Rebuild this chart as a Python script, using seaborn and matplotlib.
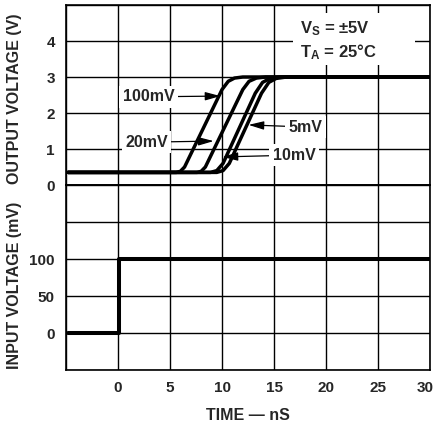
import matplotlib
matplotlib.use("Agg")
import matplotlib.pyplot as plt
from matplotlib.patches import Rectangle
from matplotlib.transforms import ScaledTranslation
import seaborn as sns
import pandas as pd

# Output response for each input overdrive: (time ns, output volts)
t_100mv = [-4.8, 5.6, 6.0, 6.4, 10.0, 10.6, 11.2, 12.0, 30.0]
v_100mv = [0.35, 0.35, 0.38, 0.50, 2.65, 2.88, 2.97, 3.00, 3.00]
t_20mv = [-4.8, 7.6, 8.0, 8.4, 12.0, 12.6, 13.3, 14.2, 30.0]
v_20mv = [0.35, 0.35, 0.38, 0.50, 2.65, 2.88, 2.97, 3.00, 3.00]
t_10mv = [-4.8, 8.9, 9.5, 10.1, 13.2, 13.9, 14.6, 15.6, 30.0]
v_10mv = [0.35, 0.35, 0.40, 0.60, 2.55, 2.85, 2.96, 3.00, 3.00]
t_5mv = [-4.8, 9.5, 10.1, 10.7, 13.8, 14.5, 15.2, 16.2, 30.0]
v_5mv = [0.35, 0.35, 0.40, 0.60, 2.55, 2.85, 2.96, 3.00, 3.00]

# Input step (time ns, millivolts)
t_in = [-4.8, 0.1, 0.1, 30.0]
v_in = [0, 0, 100, 100]

x_ticks = [0, 5, 10, 15, 20, 25, 30]
out_ticks = [0, 1, 2, 3, 4]
in_ticks = [0, 50, 100]

sns.set_style("white")
plt.rcParams["font.family"] = ["Liberation Sans", "DejaVu Sans"]
plt.rcParams["font.weight"] = "bold"
plt.rcParams["mathtext.fontset"] = "custom"
plt.rcParams["mathtext.rm"] = "Liberation Sans:bold"
plt.rcParams["mathtext.it"] = "Liberation Sans:bold"
plt.rcParams["mathtext.bf"] = "Liberation Sans:bold"

W, H = 436, 423
fig = plt.figure(figsize=(W / 100, H / 100), dpi=100)
fig.patch.set_facecolor("white")


def px_axes(left, top, right, bottom):
    return fig.add_axes([left / W, 1 - bottom / H, (right - left) / W, (bottom - top) / H])


ax_out = px_axes(66, 5, 430, 185)
ax_in = px_axes(66, 185, 430, 370)

LW = 2.5
curves = pd.concat([
    pd.DataFrame({"t": t_100mv, "v": v_100mv, "drive": "100mV"}),
    pd.DataFrame({"t": t_20mv, "v": v_20mv, "drive": "20mV"}),
    pd.DataFrame({"t": t_10mv, "v": v_10mv, "drive": "10mV"}),
    pd.DataFrame({"t": t_5mv, "v": v_5mv, "drive": "5mV"}),
])
sns.lineplot(data=curves, x="t", y="v", units="drive", estimator=None, sort=False,
             color="black", linewidth=LW, ax=ax_out, zorder=3)
sns.lineplot(x=t_in, y=v_in, estimator=None, sort=False, color="black",
             linewidth=LW + 0.4, ax=ax_in, zorder=3)

TICK_FS = 11
for ax in (ax_out, ax_in):
    ax.set_xlim(-5, 30)
    ax.set_xticks(range(-5, 31, 5))
    ax.grid(True, color="black", linewidth=1.0)
    ax.set_axisbelow(True)
    ax.tick_params(length=0, labelsize=TICK_FS)
    for s in ax.spines.values():
        s.set_color("black")
        s.set_linewidth(1.2)
    ax.set_xlabel("")
    ax.set_ylabel("")

ax_out.set_ylim(0, 5)
ax_out.set_yticks(range(0, 6))
ax_out.set_yticklabels([str(v) if v in out_ticks else "" for v in range(0, 6)])
ax_out.set_xticklabels([])

ax_in.set_ylim(-50, 200)
ax_in.set_yticks(range(-50, 201, 50))
ax_in.set_yticklabels([str(v) if v in in_ticks else "" for v in range(-50, 201, 50)])
ax_in.set_xticklabels([str(v) if v in x_ticks else "" for v in range(-5, 31, 5)])
ax_in.tick_params(axis="x", pad=8)
ax_in.tick_params(axis="y", pad=8)
ax_out.tick_params(axis="y", pad=8)

# keep the last time label inside the figure edge
last = ax_in.get_xticklabels()[-1]
last.set_transform(last.get_transform() + ScaledTranslation(-5 / 100, 0, fig.dpi_scale_trans))

ax_out.set_ylabel("OUTPUT VOLTAGE (V)", fontsize=11.5, fontweight="bold")
ax_out.yaxis.set_label_coords(-0.121, 0.478)
ax_in.set_ylabel("INPUT VOLTAGE (mV)", fontsize=11.5, fontweight="bold")
ax_in.yaxis.set_label_coords(-0.121, 0.46)
ax_in.set_xlabel("TIME — nS", fontsize=11.5, fontweight="bold", labelpad=9)

# Conditions box
ax_out.add_patch(Rectangle((0.624, 0.667), 0.335, 0.289, transform=ax_out.transAxes,
                           facecolor="white", edgecolor="none", zorder=1.5))
ax_out.text(17.5, 4.35, "V$_\\mathrm{S}$ = ±5V", fontsize=12, fontweight="bold",
            ha="left", va="center", zorder=4)
ax_out.text(17.5, 3.7, "T$_\\mathrm{A}$ = 25°C", fontsize=12, fontweight="bold",
            ha="left", va="center", zorder=4)

arrow = dict(arrowstyle="-|>,head_length=0.8,head_width=0.22", color="black",
             lw=0.9, shrinkA=0, shrinkB=0)
box = dict(facecolor="white", edgecolor="none", pad=2.5)
labels = [
    ("100mV", (5.4, 2.45), (9.85, 2.47), "right"),
    ("20mV", (4.8, 1.19), (9.2, 1.22), "right"),
    ("5mV", (16.4, 1.61), (12.55, 1.67), "left"),
    ("10mV", (14.9, 0.83), (10.05, 0.78), "left"),
]
for txt, xy_text, xy_tip, ha in labels:
    ax_out.annotate(txt, xy=xy_tip, xytext=xy_text, ha=ha, va="center",
                    fontsize=11.5, fontweight="bold", bbox=box,
                    arrowprops=arrow, zorder=5)

fig.savefig("out.png", dpi=100, facecolor="white")
